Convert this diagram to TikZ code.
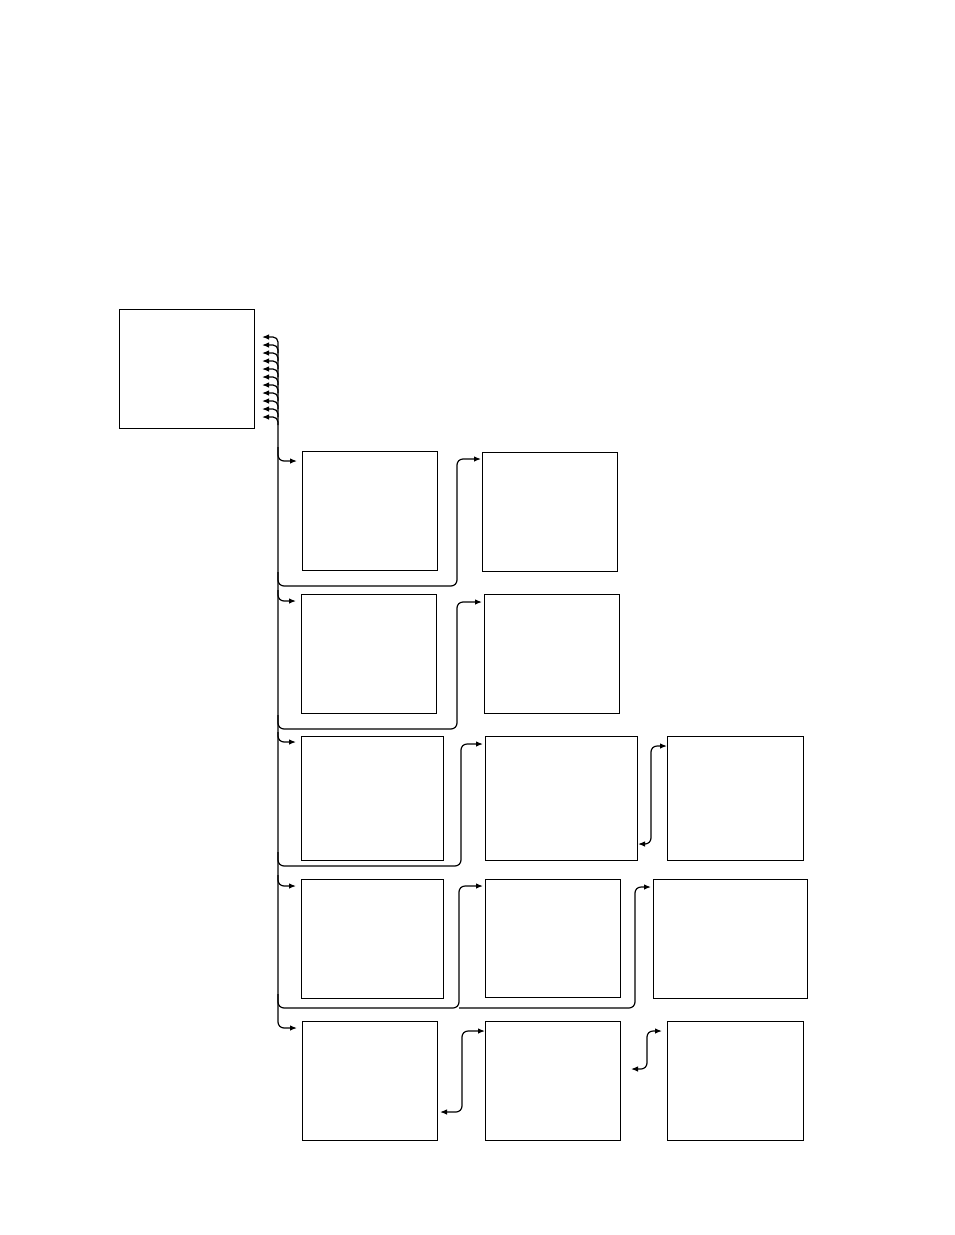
\documentclass[tikz,border=0pt]{standalone}
\usetikzlibrary{arrows.meta,calc}
\begin{document}
\begin{tikzpicture}[x=1pt,y=-1pt,
  box/.style={draw, line width=0.9pt, inner sep=0pt, outer sep=0pt, anchor=north west},
  conn/.style={line width=1.2pt, rounded corners=6pt},
  arr/.style={conn, -{Latex[length=7pt,width=5.5pt]}},
  arrboth/.style={conn, {Latex[length=7pt,width=5.5pt]}-{Latex[length=7pt,width=5.5pt]}}]
\useasboundingbox (0,0) rectangle (954,1235);
\fill[white] (0,0) rectangle (954,1235);
% boxes
\node[box, minimum width=135pt, minimum height=119pt] (src) at (119,309) {};
\node[box, minimum width=135pt, minimum height=119pt] (a1) at (302,451) {};
\node[box, minimum width=135pt, minimum height=119pt] (b1) at (482,452) {};
\node[box, minimum width=135pt, minimum height=119pt] (a2) at (301,594) {};
\node[box, minimum width=135pt, minimum height=119pt] (b2) at (484,594) {};
\node[box, minimum width=142pt, minimum height=124pt] (a3) at (301,736) {};
\node[box, minimum width=152pt, minimum height=124pt] (b3) at (485,736) {};
\node[box, minimum width=136pt, minimum height=124pt] (c3) at (667,736) {};
\node[box, minimum width=142pt, minimum height=119pt] (a4) at (301,879) {};
\node[box, minimum width=135pt, minimum height=118pt] (b4) at (485,879) {};
\node[box, minimum width=154pt, minimum height=119pt] (c4) at (653,879) {};
\node[box, minimum width=135pt, minimum height=119pt] (a5) at (302,1021) {};
\node[box, minimum width=135pt, minimum height=119pt] (b5) at (485,1021) {};
\node[box, minimum width=136pt, minimum height=119pt] (c5) at (667,1021) {};
% trunk
\coordinate (T) at (278,345);
\draw[arr] (T) |- ($(a5.north west)+(-5,7)$);
% bundle of arrows back to source
\foreach \k in {0,...,10}
  \draw[arr, rounded corners=5pt] ($(T)+(0,8*\k)$) |- ($(src.north east)+(8,28+8*\k)$);
% entries
\draw[arr] ($(T |- a1.north)+(0,-4)$) |- ($(a1.north west)+(-5,10)$);
\draw[arr] ($(T |- a2.north)+(0,-4)$) |- ($(a2.north west)+(-5,7)$);
\draw[arr] ($(T |- a3.north)+(0,-4)$) |- ($(a3.north west)+(-5,6)$);
\draw[arr] ($(T |- a4.north)+(0,-4)$) |- ($(a4.north west)+(-5,7)$);
% returns
\coordinate (r1) at (457,586);
\coordinate (r2) at (457,729);
\coordinate (r3) at (461,866);
\coordinate (r4) at (459,1008);
\coordinate (r4b) at (635,1008);
\draw[arr] ($(T |- r1)+(0,-14)$) |- (r1) |- ($(b1.north west)+(-1,7)$);
\draw[arr] ($(T |- r2)+(0,-14)$) |- (r2) |- ($(b2.north west)+(-2,8)$);
\draw[arr] ($(T |- r3)+(0,-14)$) |- (r3) |- ($(b3.north west)+(-2,8)$);
\draw[arr] ($(T |- r4)+(0,-14)$) |- (r4) |- ($(b4.north west)+(-2,7)$);
\draw[arr] (r4) -- (r4b) |- ($(c4.north west)+(-2,8)$);
% double arrows
\draw[arrboth] ($(c3.north west)+(0,10)$) -| ($(b3.south east)+(14,-16)$) -- ($(b3.south east)+(1,-16)$);
\draw[arrboth] ($(b5.north west)+(0,10)$) -| ($(a5.south east)+(25,-28)$) -- ($(a5.south east)+(3,-28)$);
\draw[arrboth] ($(c5.north west)+(-5,10)$) -| ($(b5.north east)+(27,48)$) -- ($(b5.north east)+(11,48)$);
\end{tikzpicture}
\end{document}
